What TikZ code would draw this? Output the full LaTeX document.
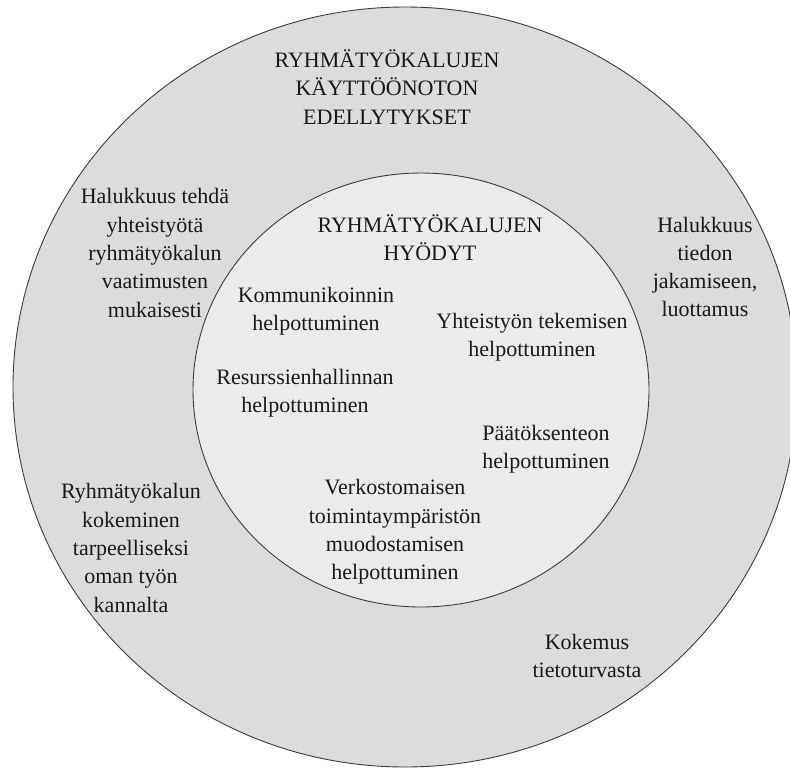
\documentclass[tikz,border=0pt]{standalone}
\usepackage{fontspec}
\setmainfont{Liberation Serif}
\definecolor{outerfill}{RGB}{220,220,220}
\definecolor{innerfill}{RGB}{235,235,235}
\definecolor{ringline}{RGB}{60,60,60}
\tikzset{
  ring/.style={draw=ringline, line width=0.9pt},
  lbl/.style={align=center, inner sep=0pt, font=\fontsize{22}{28.3}\selectfont, text=black!90}
}
\begin{document}
\begin{tikzpicture}[x=1pt, y=-1pt]
\clip (0,0) rectangle (790,769);
\fill[white] (0,0) rectangle (790,769);
\path[ring, fill=outerfill] (405,387) ellipse [x radius=392pt, y radius=380pt];
\path[ring, fill=innerfill] (421,390) ellipse [x radius=228pt, y radius=217pt];
\node[lbl] (t1) at (387,87) {RYHMÄTYÖKALUJEN\\KÄYTTÖÖNOTON\\EDELLYTYKSET};
\node[lbl] (a1) at (155,253) {Halukkuus tehdä\\yhteistyötä\\ryhmätyökalun\\vaatimusten\\mukaisesti};
\node[lbl] (a2) at (705,267) {Halukkuus\\tiedon\\jakamiseen,\\luottamus};
\node[lbl] (a3) at (131,548) {Ryhmätyökalun\\kokeminen\\tarpeelliseksi\\oman työn\\kannalta};
\node[lbl] (a4) at (587,656) {Kokemus\\tietoturvasta};
\node[lbl] (t2) at (430,238) {RYHMÄTYÖKALUJEN\\HYÖDYT};
\node[lbl] (b1) at (316,311) {Kommunikoinnin\\helpottuminen};
\node[lbl] (b2) at (532,337) {Yhteistyön tekemisen\\helpottuminen};
\node[lbl] (b3) at (305,393) {Resurssienhallinnan\\helpottuminen};
\node[lbl] (b4) at (546,449) {Päätöksenteon\\helpottuminen};
\node[lbl] (b5) at (395,532) {Verkostomaisen\\toimintaympäristön\\muodostamisen\\helpottuminen};
\end{tikzpicture}
\end{document}
